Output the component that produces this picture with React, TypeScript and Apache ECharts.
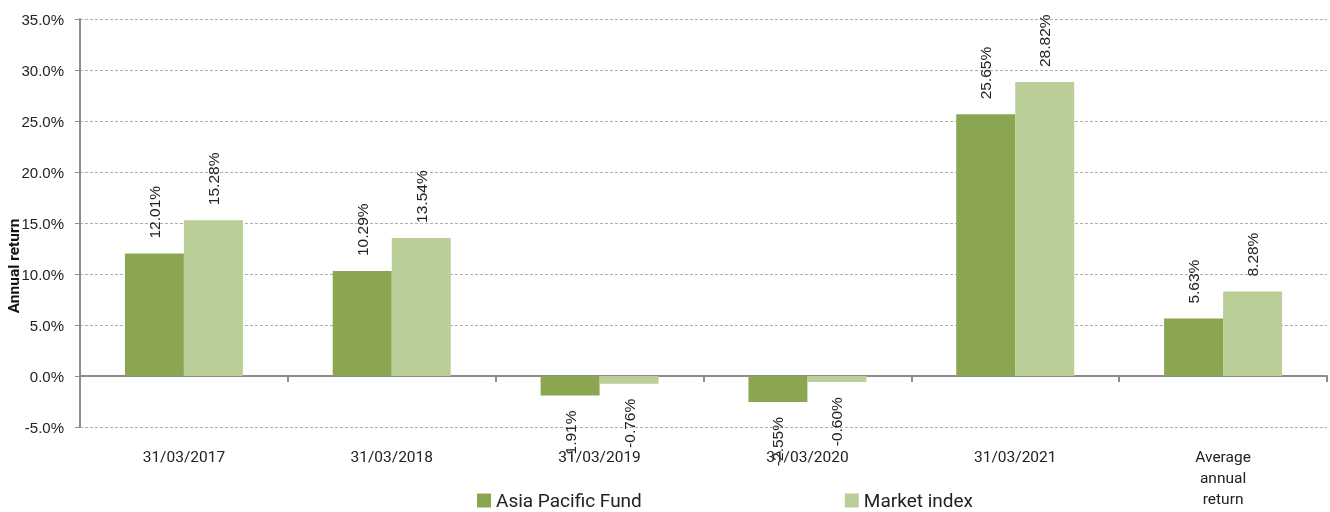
import React, { useEffect, useRef } from "react";
import * as echarts from "echarts";

const categories = ["31/03/2017", "31/03/2018", "31/03/2019", "31/03/2020", "31/03/2021", "Average\nannual\nreturn"];
const fundValues = [12.01, 10.29, -1.91, -2.55, 25.65, 5.63];
const indexValues = [15.28, 13.54, -0.76, -0.6, 28.82, 8.28];
const seriesNames = ["Asia Pacific Fund", "Market index"];
const yTicks = { min: -5, max: 35, interval: 5 };

const DARK = "#8aa650";
const LIGHT = "#b9cf97";

function toData(vals: number[]) {
  return vals.map((v) =>
    v < 0
      ? { value: v, label: { position: "bottom", align: "right" } }
      : { value: v }
  );
}

export default function App() {
  const ref = useRef<HTMLDivElement>(null);
  useEffect(() => {
    const chart = echarts.init(ref.current!, null, { renderer: "svg" });
    const labelCommon = {
      show: true,
      position: "top",
      rotate: 90,
      align: "left",
      verticalAlign: "middle",
      distance: 15,
      fontFamily: "Liberation Sans",
      fontSize: 15.5,
      color: "#222",
      formatter: (p: any) => p.value.toFixed(2) + "%",
    };
    chart.setOption({
      animation: false,
      grid: { left: 80, right: 3, top: 19, bottom: 85, containLabel: false, outerBoundsMode: "none" },
      legend: {
        left: 472,
        top: 486,
        itemWidth: 14,
        itemHeight: 14,
        itemGap: 203,
        icon: "rect",
        textStyle: { fontFamily: "Roboto", fontSize: 19, color: "#222" },
        data: seriesNames,
      },
      graphic: [
        {
          type: "text",
          x: 6,
          y: 266,
          rotation: Math.PI / 2,
          style: {
            text: "Annual return",
            font: "bold 15.5px Roboto",
            fill: "#111",
            align: "center",
            verticalAlign: "top",
          },
        },
      ],
      xAxis: {
        type: "category",
        data: categories,
        axisLine: { onZero: true, lineStyle: { color: "#8c8c8c", width: 2 } },
        axisTick: { show: true, length: 6, lineStyle: { color: "#8c8c8c", width: 2 } },
        axisLabel: {
          margin: 19,
          fontFamily: "Roboto",
          fontSize: 15.5,
          color: "#222",
          lineHeight: 21,
          interval: 0,
        },
      },
      yAxis: {
        type: "value",
        min: yTicks.min,
        max: yTicks.max,
        interval: yTicks.interval,
        axisLine: { show: true, lineStyle: { color: "#8c8c8c", width: 2 } },
        axisTick: { show: true, length: 5, lineStyle: { color: "#8c8c8c", width: 1 } },
        axisLabel: {
          margin: 16,
          fontFamily: "Liberation Sans",
          fontSize: 15,
          color: "#222",
          formatter: (v: number) => v.toFixed(1) + "%",
        },
        splitLine: { show: true, lineStyle: { color: "#b0b0b0", width: 1, type: [3, 2] } },
      },
      series: [
        {
          name: seriesNames[0],
          type: "bar",
          data: toData(fundValues),
          barWidth: 59,
          barGap: "0%",
          itemStyle: { color: DARK },
          label: labelCommon,
        },
        {
          name: seriesNames[1],
          type: "bar",
          data: toData(indexValues),
          barWidth: 59,
          barGap: "0%",
          itemStyle: { color: LIGHT },
          label: labelCommon,
        },
      ],
    });
    return () => chart.dispose();
  }, []);
  return (
    <div
      ref={ref}
      style={{ position: "fixed", left: 0, top: 0, width: 1330, height: 512 }}
    />
  );
}
